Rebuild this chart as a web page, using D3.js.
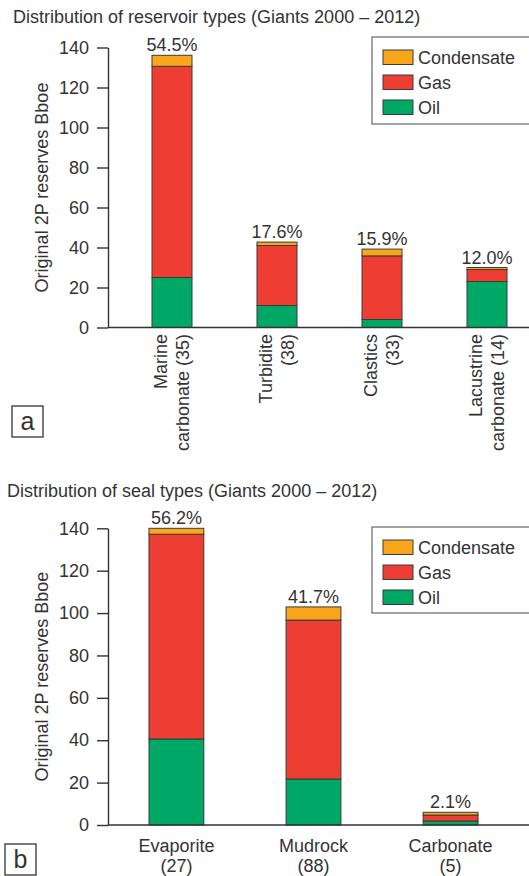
<!DOCTYPE html>
<html><head><meta charset="utf-8">
<script src="https://cdn.jsdelivr.net/npm/d3@7"></script>
<style>
body{margin:0;background:#fff;}
text{font-family:"Liberation Sans",Arial,sans-serif;fill:#333;}
</style></head>
<body>
<svg id="c" width="529" height="876"></svg>
<script>
// ---- data ----
const seriesNames = ["Oil", "Gas", "Condensate"];
const legendOrder = ["Condensate", "Gas", "Oil"];
const colors = {Oil: "#00a865", Gas: "#ee3e34", Condensate: "#f9a61b"};
const yTicks = [0, 20, 40, 60, 80, 100, 120, 140];

const reservoirTitle = "Distribution of reservoir types (Giants 2000 \u2013 2012)";
const reservoirLabels = [["Marine", "carbonate (35)"], ["Turbidite", "(38)"], ["Clastics", "(33)"], ["Lacustrine", "carbonate (14)"]];
const reservoirOil = [25, 11, 4, 23];
const reservoirGas = [105.6, 30, 31.8, 6];
const reservoirCond = [5.5, 1.7, 3.4, 1];
const reservoirPct = ["54.5%", "17.6%", "15.9%", "12.0%"];

const sealTitle = "Distribution of seal types (Giants 2000 \u2013 2012)";
const sealLabels = [["Evaporite", "(27)"], ["Mudrock", "(88)"], ["Carbonate", "(5)"]];
const sealOil = [40.6, 21.7, 1.9];
const sealGas = [96.6, 75, 2.8];
const sealCond = [2.8, 6.2, 1.3];
const sealPct = ["56.2%", "41.7%", "2.1%"];

const svg = d3.select("#c");

function panel(cfg) {
  const g = svg.append("g");
  const cats = cfg.labels.map(l => l.join(" "));
  const rows = cats.map((c, i) => ({cat: c, Oil: cfg.oil[i], Gas: cfg.gas[i], Condensate: cfg.cond[i]}));
  const x = d3.scaleBand().domain(cats).range(cfg.xRange)
    .paddingInner(cfg.padIn).paddingOuter(cfg.padOut);
  const y = d3.scaleLinear().domain([0, 140]).range(cfg.yRange);
  const stacked = d3.stack().keys(seriesNames)(rows);

  // title
  g.append("text").attr("x", cfg.titleX).attr("y", cfg.titleY)
    .style("font-size", "18px").text(cfg.title);

  // bars
  g.selectAll("g.s").data(stacked).join("g").attr("class", "s")
    .attr("fill", d => colors[d.key])
    .selectAll("rect").data(d => d).join("rect")
    .attr("x", d => x(d.data.cat))
    .attr("width", x.bandwidth())
    .attr("y", d => y(d[1]))
    .attr("height", d => y(d[0]) - y(d[1]))
    .attr("stroke", "#3a3a3a").attr("stroke-width", 1);

  // percent labels
  const tops = stacked[stacked.length - 1];
  g.selectAll("text.pct").data(tops).join("text").attr("class", "pct")
    .attr("x", d => x(d.data.cat) + x.bandwidth() / 2)
    .attr("y", d => y(d[1]) - 4)
    .attr("text-anchor", "middle").style("font-size", "18px")
    .text((d, i) => cfg.pct[i]);

  // y axis
  const ax = g.append("g").attr("transform", `translate(${cfg.axisX},0)`)
    .call(d3.axisLeft(y).tickValues(yTicks).tickSize(11).tickSizeOuter(0).tickPadding(8));
  ax.selectAll("path,line").attr("stroke", "#333").attr("stroke-width", 1.4);
  ax.selectAll("text").style("font-size", "18px").attr("fill", "#333")
    .style("font-family", '"Liberation Sans",Arial,sans-serif');

  // baseline
  g.append("line").attr("x1", cfg.axisX).attr("x2", 529)
    .attr("y1", y(0)).attr("y2", y(0)).attr("stroke", "#333").attr("stroke-width", 1.4);

  // y label
  const ymid = (cfg.yRange[0] + cfg.yRange[1]) / 2;
  g.append("text").attr("transform", `translate(48,${ymid}) rotate(-90)`)
    .attr("text-anchor", "middle").style("font-size", "18px")
    .text("Original 2P reserves Bboe");

  // category labels
  cfg.labels.forEach((lines, i) => {
    const cx = x(cats[i]) + x.bandwidth() / 2;
    if (cfg.rotated) {
      const t = g.append("text").attr("transform", `translate(${cx},334) rotate(-90)`)
        .attr("text-anchor", "end").style("font-size", "18px");
      t.append("tspan").attr("x", 0).attr("y", -5).text(lines[0]);
      t.append("tspan").attr("x", 0).attr("y", 17).text(lines[1]);
    } else {
      const t = g.append("text").attr("text-anchor", "middle").style("font-size", "18px");
      t.append("tspan").attr("x", cx).attr("y", cfg.catY).text(lines[0]);
      t.append("tspan").attr("x", cx).attr("y", cfg.catY + 20).text(lines[1]);
    }
  });

  // legend
  const L = cfg.legend;
  g.append("rect").attr("x", L.x).attr("y", L.y).attr("width", 200).attr("height", L.h)
    .attr("fill", "#fff").attr("stroke", "#666").attr("stroke-width", 1.2);
  legendOrder.forEach((k, i) => {
    const sy = L.y + 13 + i * 25;
    g.append("rect").attr("x", L.x + 11).attr("y", sy).attr("width", 30).attr("height", 14.5)
      .attr("fill", colors[k]).attr("stroke", "#3a3a3a").attr("stroke-width", 1);
    g.append("text").attr("x", L.x + 46).attr("y", sy + 14).style("font-size", "18px").text(k);
  });

  // panel letter
  const P = cfg.letter;
  g.append("rect").attr("x", P.x).attr("y", P.y).attr("width", 31).attr("height", 31)
    .attr("fill", "none").attr("stroke", "#333").attr("stroke-width", 1.3);
  g.append("text").attr("x", P.x + 15.5).attr("y", P.y + 24).attr("text-anchor", "middle")
    .style("font-size", "25px").text(P.t);
}

panel({
  title: reservoirTitle, titleX: 13, titleY: 23,
  labels: reservoirLabels, oil: reservoirOil, gas: reservoirGas, cond: reservoirCond, pct: reservoirPct,
  xRange: [108, 551], padIn: 0.619, padOut: 0.419,
  yRange: [327.5, 47.5], axisX: 108, rotated: true,
  legend: {x: 372, y: 37, h: 87},
  letter: {x: 12, y: 406, t: "a"}
});

panel({
  title: sealTitle, titleX: 7, titleY: 497,
  labels: sealLabels, oil: sealOil, gas: sealGas, cond: sealCond, pct: sealPct,
  xRange: [108, 519], padIn: 0.6, padOut: 0.299,
  yRange: [825, 528.3], axisX: 108, rotated: false, catY: 852,
  legend: {x: 372, y: 527, h: 86},
  letter: {x: 5, y: 844, t: "b"}
});
</script>
</body></html>
